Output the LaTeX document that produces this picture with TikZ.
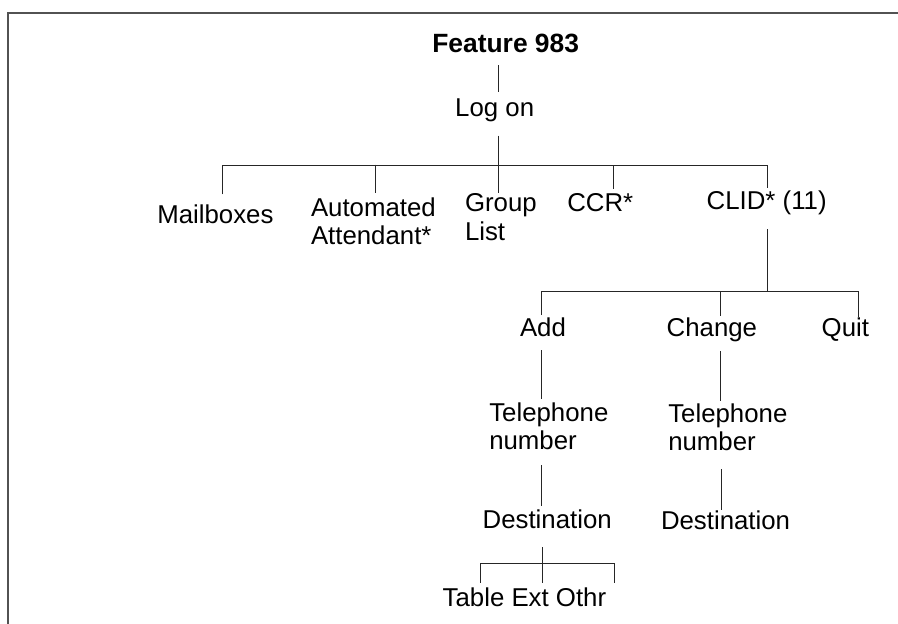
\documentclass[tikz,border=0pt]{standalone}
\usepackage{fontspec}
\setmainfont{Liberation Sans}
\tikzset{
  lbl/.style={inner sep=0pt, outer sep=0pt, anchor=base west, font=\fontsize{25.8}{28.3}\selectfont, text=black},
  ttl/.style={inner sep=0pt, outer sep=0pt, anchor=base, font=\fontsize{26.4}{28.3}\selectfont\bfseries, text=black},
  conn/.style={draw=black!85, line width=1pt},
  frame/.style={draw=black!68, line width=2pt}
}
\newcommand{\twoline}[2]{\begin{tabular}[t]{@{}l@{}}#1\\#2\end{tabular}}
\begin{document}
\begin{tikzpicture}[x=1pt,y=-1pt]
\useasboundingbox (0,0) rectangle (898,624);
% frame
\coordinate (fr1) at (898,12.7);
\coordinate (fr2) at (7.7,12.7);
\coordinate (fr3) at (7.7,624);
\draw[frame] (fr1) -- (fr2) -- (fr3);

% nodes
\node[ttl] (feat) at (505.7,52.3) {Feature 983};
\node[lbl,anchor=base] (logon) at (494.7,116) {Log on};
\node[lbl] (mail) at (157.3,223.3) {Mailboxes};
\node[lbl] (auto) at (311,216) {\twoline{Automated}{Attendant*}};
\node[lbl] (group) at (465,211.7) {\twoline{Group}{List}};
\node[lbl] (ccr) at (567.3,211.7) {CCR*};
\node[lbl] (clid) at (706.7,209.3) {CLID* (11)};
\node[lbl] (add) at (520,336.7) {Add};
\node[lbl] (change) at (666.7,336.7) {Change};
\node[lbl] (quit) at (821.7,336.7) {Quit};
\node[lbl] (tel1) at (489.3,421) {\twoline{Telephone}{number}};
\node[lbl] (tel2) at (668.3,422.3) {\twoline{Telephone}{number}};
\node[lbl] (dest1) at (482.7,528.3) {Destination};
\node[lbl] (dest2) at (661,529.3) {Destination};
\node[lbl] (tox) at (442.7,606.7) {Table Ext Othr};

% connector points
\coordinate (featb) at (498.3,65);
\coordinate (logt) at (498.3,92.3);
\coordinate (logb) at (498.3,135.7);
\coordinate (grpt) at (498.3,193.3);
\coordinate (b1l) at (222.7,165.5);
\coordinate (b1r) at (767.5,165.5);
\coordinate (mailt) at (222.7,194.3);
\coordinate (autob) at (375,164.5);
\coordinate (autot) at (375,192.7);
\coordinate (ccrb) at (613.3,165.5);
\coordinate (ccrt) at (613.3,189.3);
\coordinate (clidt) at (767.5,188.3);
\coordinate (clidb) at (767.7,229.3);
\coordinate (b2c) at (767.7,291.5);
\coordinate (b2l) at (541.7,291.5);
\coordinate (b2r) at (858.7,291.5);
\coordinate (addt) at (541.7,315);
\coordinate (chb) at (720.7,291.5);
\coordinate (cht) at (720.7,316);
\coordinate (quitt) at (858.7,316.7);
\coordinate (addb) at (541,350);
\coordinate (tel1t) at (541,399.3);
\coordinate (chbb) at (720,351);
\coordinate (tel2t) at (720,401);
\coordinate (tel1b) at (541.3,465);
\coordinate (dest1t) at (541.3,506);
\coordinate (tel2b) at (721,469);
\coordinate (dest2t) at (721,510);
\coordinate (dest1b) at (542.7,547.3);
\coordinate (extt) at (542.7,582.7);
\coordinate (b3l) at (480.3,563.7);
\coordinate (b3r) at (614.3,563.7);
\coordinate (tablet) at (480.3,582.7);
\coordinate (othrt) at (614.3,582.7);

% connectors
\draw[conn] (featb) -- (logt);
\draw[conn] (logb) -- (grpt);
\draw[conn] (mailt) -- (b1l) -- (b1r) -- (clidt);
\draw[conn] (autob) -- (autot);
\draw[conn] (ccrb) -- (ccrt);
\draw[conn] (clidb) -- (b2c);
\draw[conn] (addt) -- (b2l) -- (b2r) -- (quitt);
\draw[conn] (chb) -- (cht);
\draw[conn] (addb) -- (tel1t);
\draw[conn] (chbb) -- (tel2t);
\draw[conn] (tel1b) -- (dest1t);
\draw[conn] (tel2b) -- (dest2t);
\draw[conn] (dest1b) -- (extt);
\draw[conn] (tablet) -- (b3l) -- (b3r) -- (othrt);
\end{tikzpicture}
\end{document}
